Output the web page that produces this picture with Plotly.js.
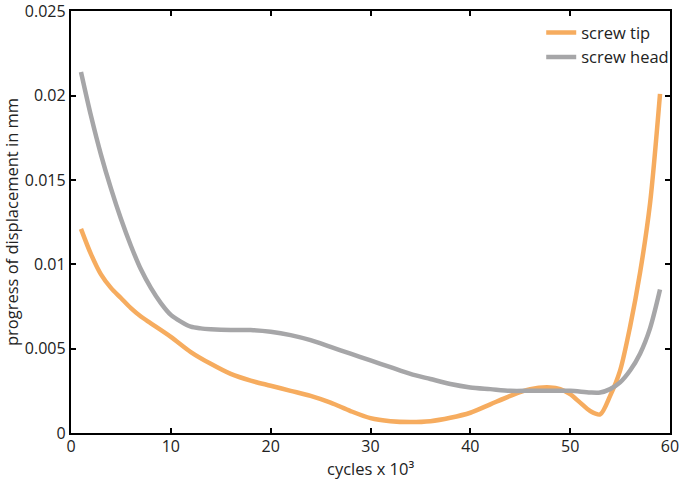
<!DOCTYPE html>
<html>
<head>
<meta charset="utf-8">
<script src="https://cdn.plot.ly/plotly-3.0.1.min.js"></script>
<style>html,body{margin:0;padding:0;background:#fff;}#chart{width:685px;height:479px;}</style>
</head>
<body>
<div id="chart"></div>
<script>
const tipX = [1,2,3,4,5,6,7,8,10,12,14,16,18,20,22,24,26,28,30,32,34,36,38,40,42,44,46,48,49,50,51,52,53,54,55,56,57,58,59];
const tipY = [0.0121,0.0106,0.0094,0.0086,0.0080,0.0074,0.0069,0.0065,0.0057,0.0048,0.0041,0.0035,0.0031,0.0028,0.0025,0.0022,0.0018,0.0013,0.00088,0.0007,0.00065,0.0007,0.0009,0.0012,0.0017,0.0022,0.0026,0.0027,0.0026,0.0023,0.0018,0.0013,0.0011,0.0022,0.0037,0.0063,0.0095,0.0136,0.0201];
const headX = [1,2,3,4,5,6,7,8,9,10,11,12,13,14,16,18,20,22,24,26,28,30,32,34,36,38,40,42,44,46,48,50,52,53,54,55,56,57,58,59];
const headY = [0.0214,0.0188,0.0165,0.0145,0.0127,0.0111,0.0097,0.0086,0.0077,0.0070,0.0066,0.0063,0.0062,0.00615,0.0061,0.0061,0.0060,0.0058,0.0055,0.0051,0.0047,0.0043,0.0039,0.0035,0.0032,0.0029,0.0027,0.0026,0.0025,0.0025,0.0025,0.0025,0.0024,0.0024,0.0026,0.0030,0.0037,0.0047,0.0062,0.0085];
const seriesNames = ['screw tip','screw head'];
const xTicks = [0,10,20,30,40,50,60];
const yTicks = [0,0.005,0.01,0.015,0.02,0.025];
const yTickText = ['0','0.005','0.01','0.015','0.02','0.025'];
const xTitle = 'cycles x 10³';
const yTitle = 'progress of displacement in mm';

const fam = '"Open Sans", "Noto Sans", sans-serif';
const tickFont = {family:fam, size:16, color:'#222'};
const legendFont = {family:fam, size:16.5, color:'#222'};
const titleFont = {family:fam, size:16.5, color:'#222'};
const traces = [
  {x:tipX, y:tipY, name:seriesNames[0], mode:'lines', line:{color:'rgb(246,172,95)', width:4.5, shape:'spline', smoothing:0.8}},
  {x:headX, y:headY, name:seriesNames[1], mode:'lines', line:{color:'rgb(166,166,168)', width:4.5, shape:'spline', smoothing:0.8}}
];
const axisBase = {showline:true, linecolor:'#000', linewidth:2.2, mirror:'ticks', ticks:'inside', ticklen:5, tickwidth:2, tickcolor:'#000', showgrid:false, zeroline:false, tickfont:tickFont, ticklabeloverflow:'allow'};
const layout = {
  width:685, height:479,
  margin:{l:71, r:11, t:11, b:46},
  paper_bgcolor:'#fff', plot_bgcolor:'#fff',
  font:tickFont,
  showlegend:true,
  legend:{x:0.785, y:0.99, xanchor:'left', yanchor:'top', bgcolor:'rgba(0,0,0,0)', font:legendFont, tracegroupgap:0},
  xaxis:Object.assign({}, axisBase, {range:[0,60], tickvals:xTicks, ticktext:xTicks.map(String), ticklabelstandoff:-2}),
  yaxis:Object.assign({}, axisBase, {range:[0,0.02501], tickvals:yTicks, ticktext:yTickText, title:{text:yTitle, font:titleFont, standoff:6}}),
  annotations:[{text:xTitle, xref:'paper', yref:'paper', x:0.5, y:0, xanchor:'center', yanchor:'middle', yshift:-35, showarrow:false, font:titleFont}]
};
Plotly.newPlot('chart', traces, layout, {displayModeBar:false, staticPlot:true});
</script>
</body>
</html>
